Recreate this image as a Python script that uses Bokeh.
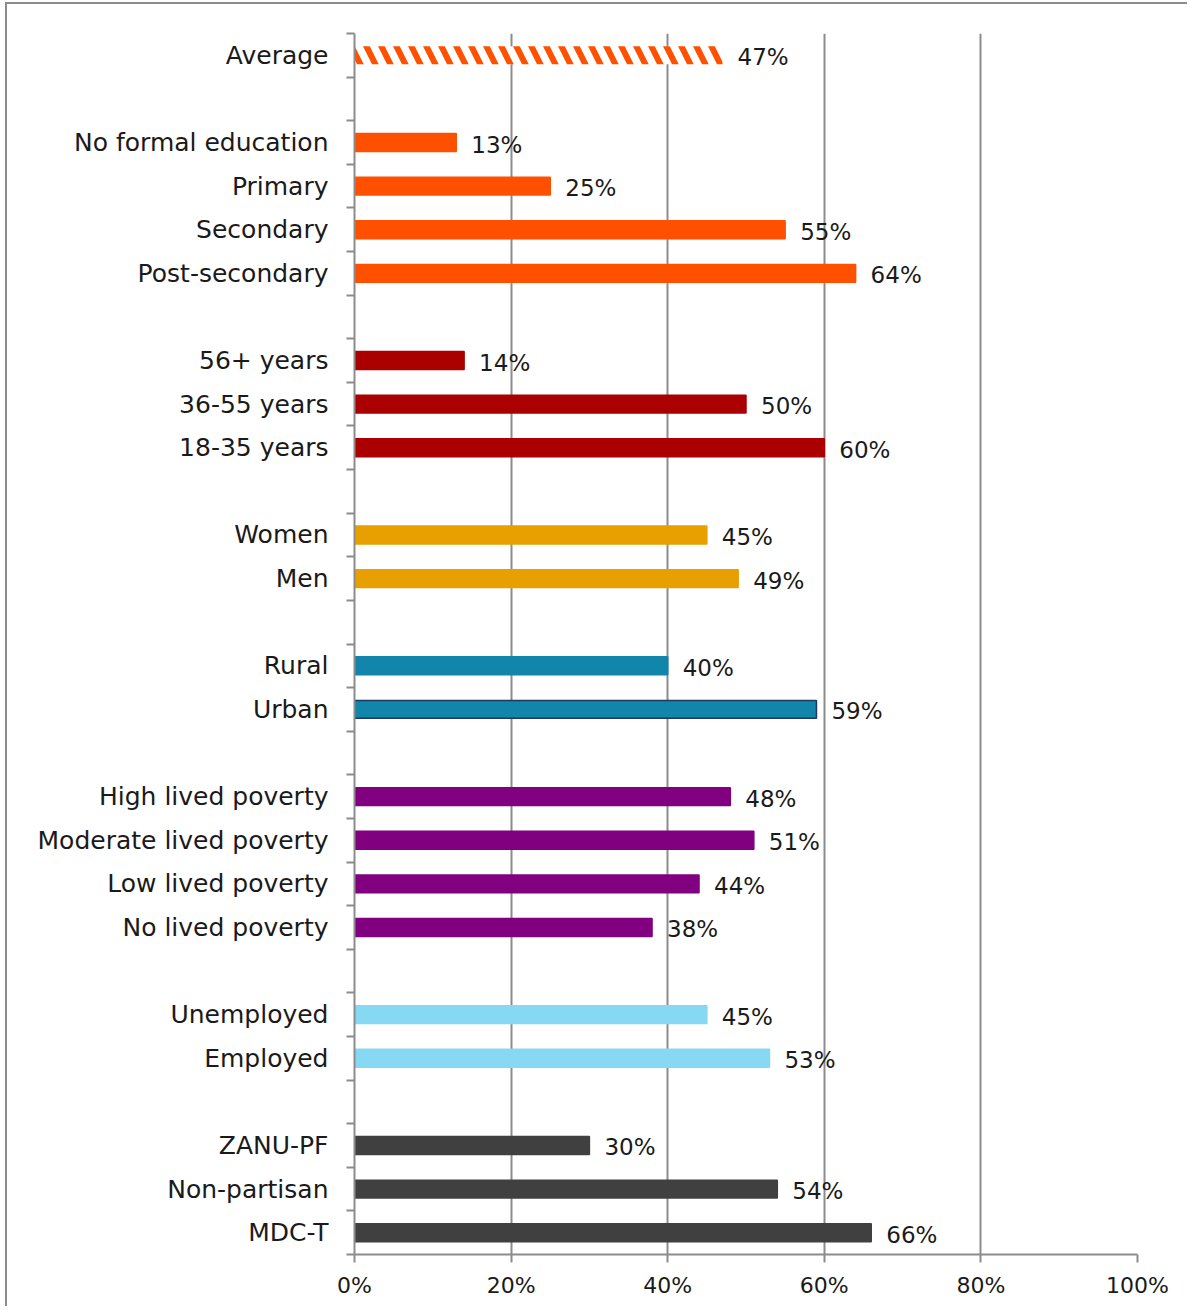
from bokeh.plotting import figure
from bokeh.models import Range1d, FixedTicker, NumeralTickFormatter, ColumnDataSource
from bokeh.embed import file_html
from bokeh.resources import INLINE
from bokeh.core.properties import value

# ---- data ----
avg_label = ["Average"]
avg_value = [47]

edu_labels = ["No formal education", "Primary", "Secondary", "Post-secondary"]
edu_values = [13, 25, 55, 64]

age_labels = ["56+ years", "36-55 years", "18-35 years"]
age_values = [14, 50, 60]

gender_labels = ["Women", "Men"]
gender_values = [45, 49]

loc_labels = ["Rural", "Urban"]
loc_values = [40, 59]

pov_labels = ["High lived poverty", "Moderate lived poverty", "Low lived poverty", "No lived poverty"]
pov_values = [48, 51, 44, 38]

emp_labels = ["Unemployed", "Employed"]
emp_values = [45, 53]

party_labels = ["ZANU-PF", "Non-partisan", "MDC-T"]
party_values = [30, 54, 66]

x_ticks = [0, 0.2, 0.4, 0.6, 0.8, 1.0]

groups = [
    (edu_labels, edu_values, "#FF5000"),
    (age_labels, age_values, "#AA0000"),
    (gender_labels, gender_values, "#E8A000"),
    (loc_labels, loc_values, "#1185AA"),
    (pov_labels, pov_values, "#800080"),
    (emp_labels, emp_values, "#87D8F3"),
    (party_labels, party_values, "#404040"),
]

# build rows (one blank row between groups)
rows = list(avg_label)
bar_y, bar_v, bar_c, bar_lc = [], [], [], []
for labels, vals, col in groups:
    rows.append("")
    for lab, v in zip(labels, vals):
        bar_y.append(len(rows))
        bar_v.append(v / 100)
        bar_c.append(col)
        bar_lc.append("#1F3864" if lab == "Urban" else col)
        rows.append(lab)
n = len(rows)

FONT = "DejaVu Sans"
GRAY = "#8C8C8C"
TXT = "#1A1A1A"

p = figure(width=1182, height=1304, output_backend="svg", toolbar_location=None,
           x_range=Range1d(0, 1), y_range=Range1d(n - 0.5, -0.5),
           min_border_left=347, min_border_right=52, min_border_top=29, min_border_bottom=54)
p.styles = {"border-left": "2px solid #8C8C8C", "border-top": "2px solid #8C8C8C",
            "margin-left": "5px", "margin-top": "2px"}
p.outline_line_color = None
p.background_fill_color = "white"
p.border_fill_color = "white"

src = ColumnDataSource(dict(y=bar_y, v=bar_v, c=bar_c, lc=bar_lc,
                            t=[f"{round(v*100)}%" for v in bar_v]))
p.hbar(y="y", left=0, right="v", height=0.41, fill_color="c", line_color="lc", line_width=1.5, source=src)

asrc = ColumnDataSource(dict(y=[0], v=[avg_value[0] / 100], t=[f"{avg_value[0]}%"]))
p.hbar(y="y", left=0, right="v", height=0.41, fill_color="white", line_color=None,
       hatch_pattern="\\", hatch_color="#FF5000", hatch_scale=30, hatch_weight=6, source=asrc)

for s in (src, asrc):
    p.text(x="v", y="y", text="t", source=s, x_offset=15, y_offset=2,
           text_baseline="middle", text_align="left", text_font=value(FONT),
           text_font_size="23px", text_color=TXT)

# grid
p.ygrid.visible = False
p.xgrid.ticker = FixedTicker(ticks=x_ticks)
p.xgrid.grid_line_color = GRAY
p.xgrid.grid_line_width = 2

# x axis
xa = p.xaxis[0]
xa.ticker = FixedTicker(ticks=x_ticks)
xa.formatter = NumeralTickFormatter(format="0%")
xa.axis_line_color = GRAY
xa.axis_line_width = 2
xa.major_tick_line_color = GRAY
xa.major_tick_line_width = 2
xa.major_tick_out = 8
xa.major_tick_in = 0
xa.minor_tick_line_color = None
xa.major_label_text_font = FONT
xa.major_label_text_font_size = "22px"
xa.major_label_text_color = TXT
xa.major_label_standoff = 10

# y axis
ya = p.yaxis[0]
ya.ticker = FixedTicker(ticks=list(range(n)), minor_ticks=[i - 0.5 for i in range(n + 1)])
ya.major_label_overrides = {i: rows[i] for i in range(n)}
ya.axis_line_color = GRAY
ya.axis_line_width = 2
ya.major_tick_line_color = None
ya.major_tick_out = 0
ya.major_tick_in = 0
ya.minor_tick_line_color = GRAY
ya.minor_tick_line_width = 2
ya.minor_tick_out = 8
ya.minor_tick_in = 0
ya.major_label_text_font = FONT
ya.major_label_text_font_size = "25px"
ya.major_label_text_color = TXT
ya.major_label_standoff = 18

open("out.html", "w").write(file_html(p, INLINE))
